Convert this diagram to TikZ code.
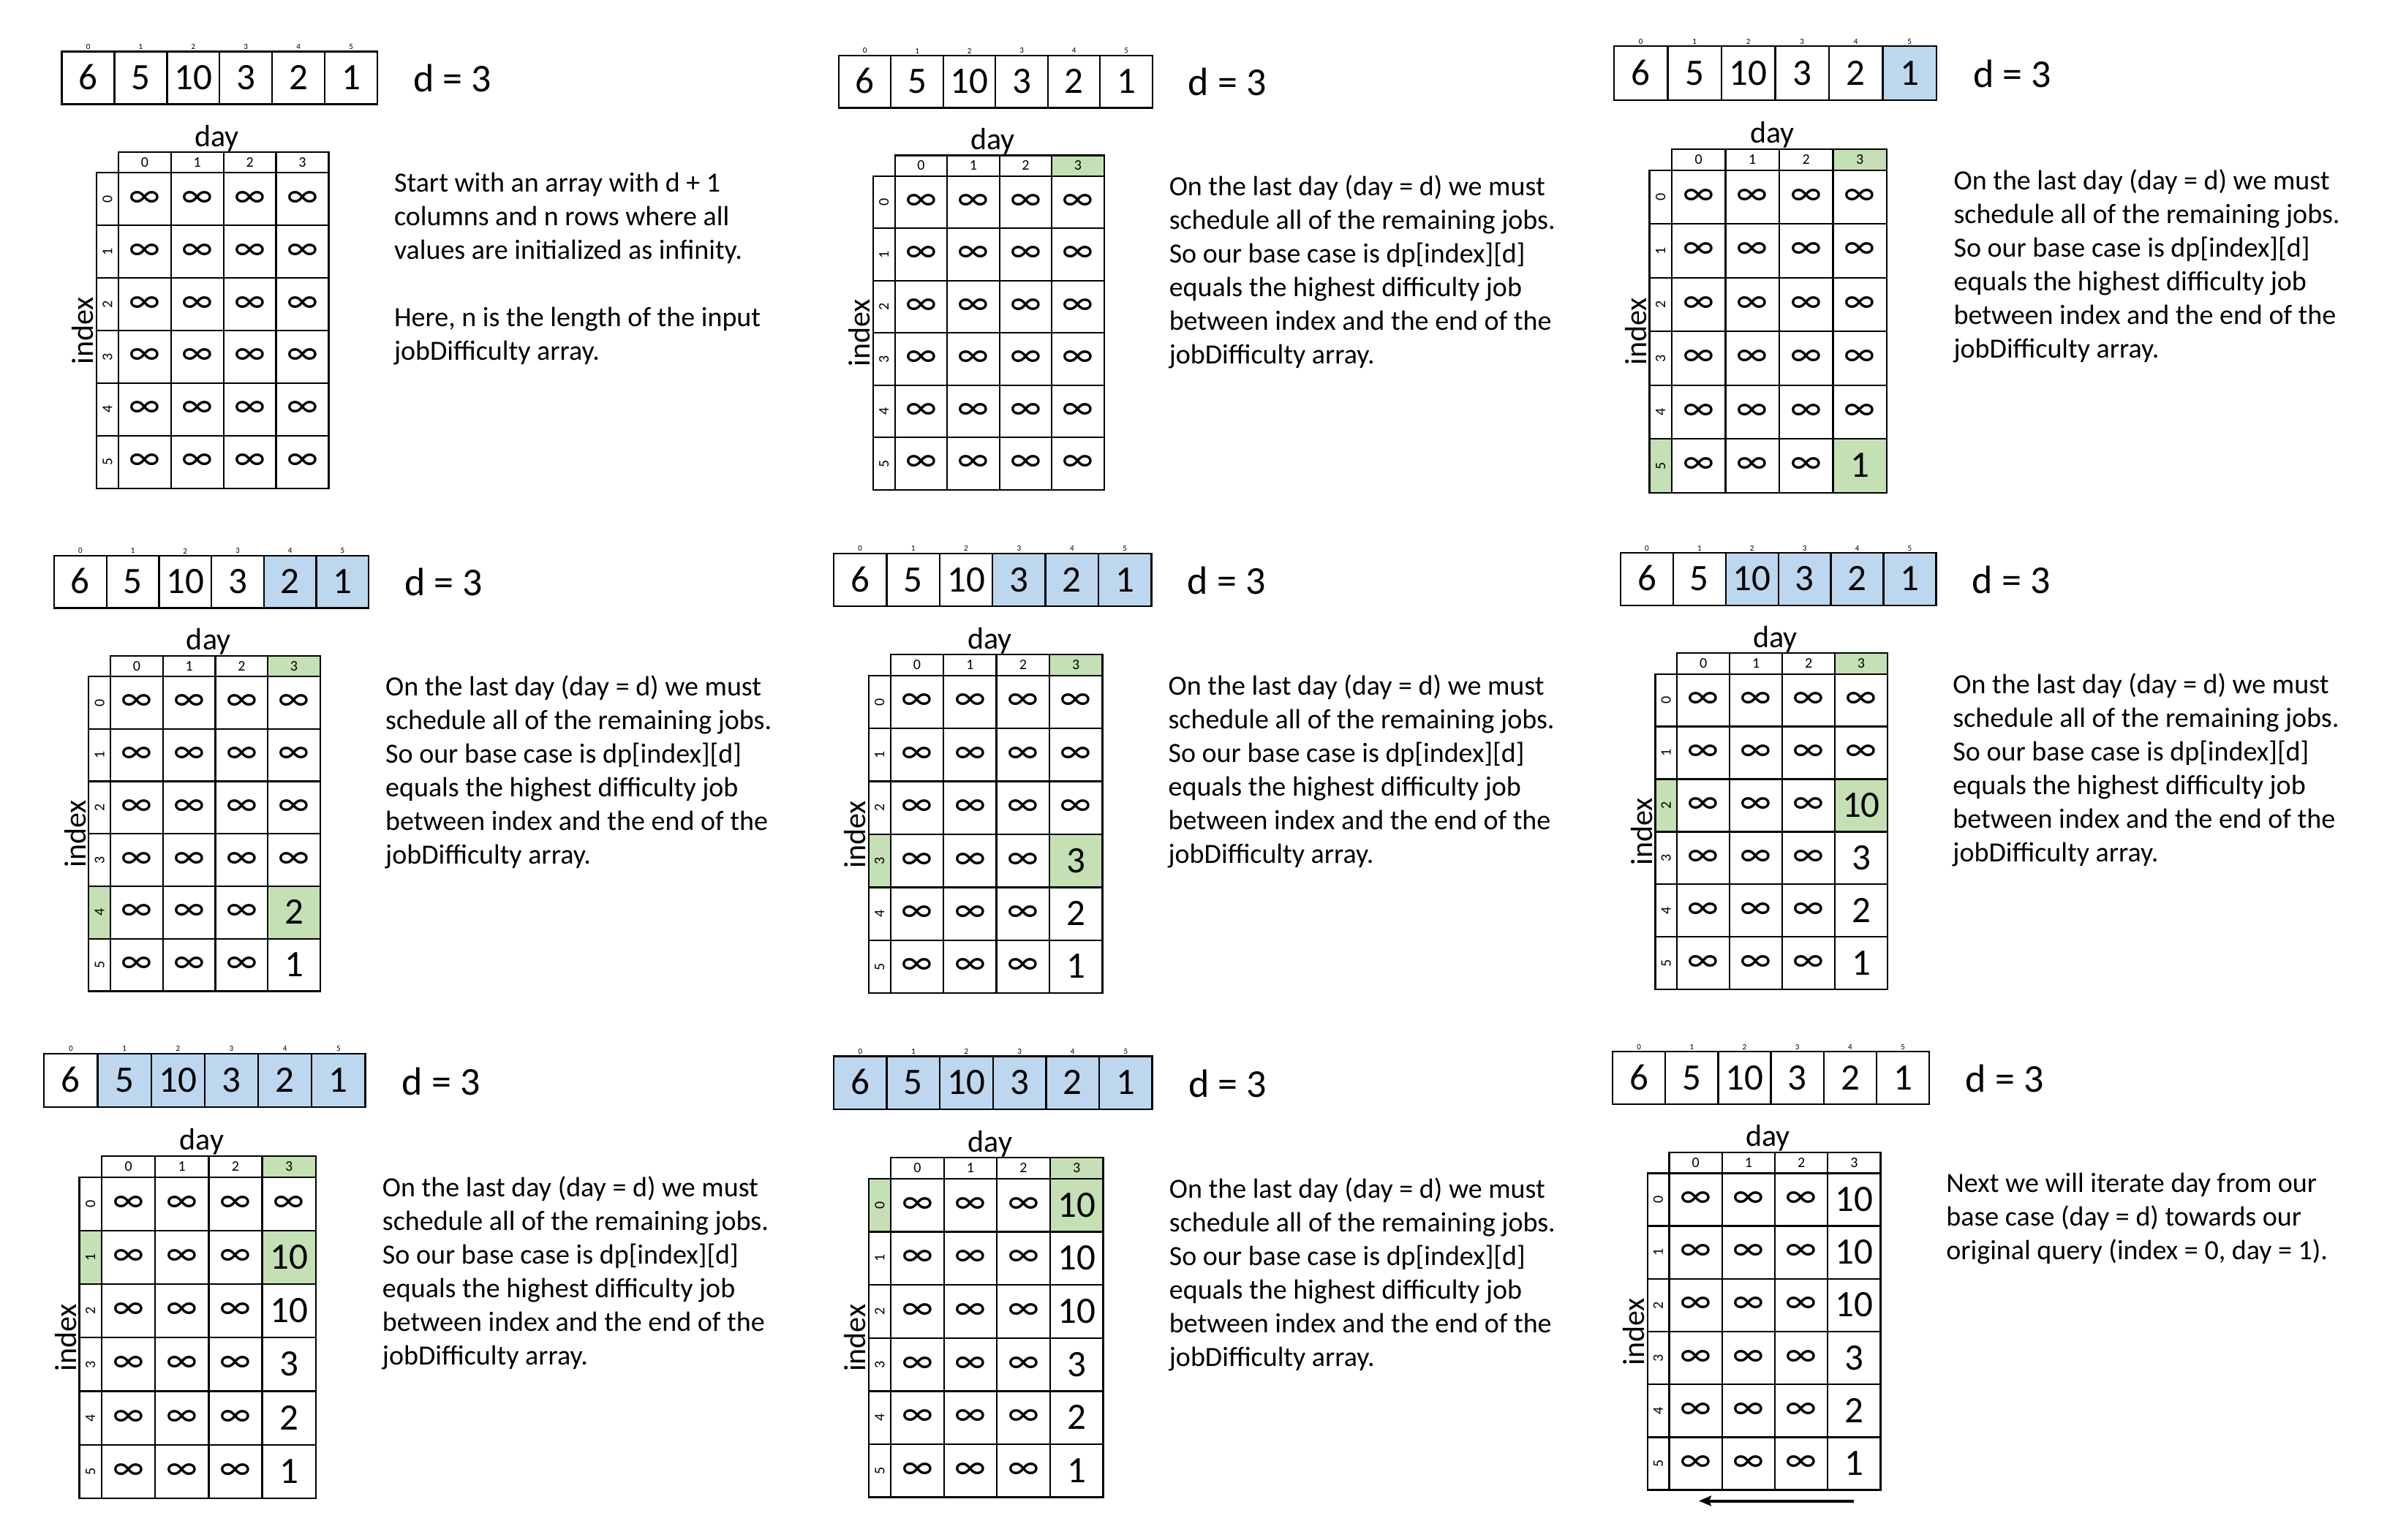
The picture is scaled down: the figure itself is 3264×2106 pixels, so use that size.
\documentclass[tikz,border=0pt]{standalone}
\usepackage{fontspec}
\setmainfont{Carlito}
\usetikzlibrary{arrows.meta}
\definecolor{cellblue}{HTML}{BDD7EE}
\definecolor{cellgreen}{HTML}{C5E0B4}
\tikzset{
  gline/.style={draw=black, line width=2.3pt},
  arrcell/.style={gline, fill=white, inner sep=0pt, font=\fontsize{51}{51}\selectfont, text height=32pt, text depth=0pt},
  tinyidx/.style={inner sep=0pt, font=\fontsize{11}{11}\selectfont},
  dlabel/.style={anchor=base west, inner sep=0pt, font=\fontsize{54}{54}\selectfont},
  axislabel/.style={inner sep=0pt, font=\fontsize{42}{42}\selectfont},
  hdrcell/.style={gline, fill=white, inner sep=0pt, font=\fontsize{20}{20}\selectfont, text height=12.6pt, text depth=0pt},
  idxcell/.style={gline, fill=white, inner sep=0pt, rotate=90, font=\fontsize{20}{20}\selectfont, text height=12.6pt, text depth=0pt},
  infcell/.style={gline, fill=white, inner sep=0pt, font=\fontsize{50}{50}\selectfont},
  numcell/.style={gline, fill=white, inner sep=0pt, font=\fontsize{51}{51}\selectfont, text height=32pt, text depth=0pt},
  bodytext/.style={anchor=north west, inner sep=0pt, align=left, font=\fontsize{38}{46}\selectfont},
  iterarrow/.style={draw=black, line width=4pt, -{Stealth[length=17pt,width=14pt,inset=3pt]}}
}
\def\hx{1.075}
\def\hy{1.91}
\def\hh{0.395}
% #1 id, #2 x, #3 y, #4 cell size, #5 first computed row, #6 mode, #7 text
\newcommand{\drawpanel}[7]{%
\begin{scope}[shift={(#2,#3)}, x=#4pt, y=-#4pt]
  \ifnum#6=2\relax \def\bluestart{#5}\def\greenrow{#5}\else\def\bluestart{6}\def\greenrow{9}\fi
  \ifnum#6>0\relax \def\hdrfill{cellgreen}\else\def\hdrfill{white}\fi
  \foreach \k/\v in {0/6,1/5,2/10,3/3,4/2,5/1}{%
    \ifnum\k<\bluestart\relax
      \node[arrcell, minimum width=#4pt, minimum height=#4pt] (#1a\k) at (\k+0.5,0.5) {\v};
    \else
      \node[arrcell, fill=cellblue, minimum width=#4pt, minimum height=#4pt] (#1a\k) at (\k+0.5,0.5) {\v};
    \fi
    \node[tinyidx] (#1t\k) at (\k+0.5,-0.09) {\k};
  }
  \node[dlabel] (#1d) at (6.68,0.765) {d = 3};
  \node[axislabel, anchor=base] (#1day) at ({\hx+1.87},{\hy-0.11}) {day};
  \foreach \j in {0,1,2}{%
    \node[hdrcell, minimum width=#4pt, minimum height={\hh*#4pt}] (#1h\j) at ({\hx+\j+0.5},{\hy+\hh/2}) {\j};
  }
  \node[hdrcell, fill=\hdrfill, minimum width=#4pt, minimum height={\hh*#4pt}] (#1h3) at ({\hx+3.5},{\hy+\hh/2}) {3};
  \foreach \i in {0,...,5}{%
    \ifnum\i=\greenrow\relax \def\rowfill{cellgreen}\else\def\rowfill{white}\fi
    \node[idxcell, fill=\rowfill, minimum width=#4pt, minimum height={0.415*#4pt}] (#1r\i) at ({\hx-0.2075},{\hy+\hh+\i+0.5}) {\i};
    \foreach \j in {0,1,2}{%
      \node[infcell, minimum width=#4pt, minimum height=#4pt] (#1v\i\j) at ({\hx+\j+0.5},{\hy+\hh+\i+0.5}) {∞};
    }
    \ifnum\i<#5\relax
      \node[infcell, fill=\rowfill, minimum width=#4pt, minimum height=#4pt] (#1v\i3) at ({\hx+3.5},{\hy+\hh+\i+0.5}) {∞};
    \else
      \node[numcell, fill=\rowfill, minimum width=#4pt, minimum height=#4pt] (#1v\i3) at ({\hx+3.5},{\hy+\hh+\i+0.5}) {\ifcase\i\relax 10\or 10\or 10\or 3\or 2\or 1\fi};
    \fi
  }
  \node[axislabel, rotate=90, anchor=base] (#1idx) at ({\hx-0.475},{\hy+\hh+3}) {index};
  \node[bodytext] (#1txt) at ({\hx+5.243},{\hy+\hh-0.083}) {#7};
\end{scope}}
\newcommand{\basetext}{\strut On the last day (day = d) we must\\ \strut schedule all of the remaining jobs.\\ \strut So our base case is dp[index][d]\\ \strut equals the highest difficulty job\\ \strut between index and the end of the\\ \strut jobDifficulty array.}
\begin{document}
\begin{tikzpicture}[x=1pt, y=-1pt]
  \fill[white] (0,0) rectangle (3264,2106);
  \useasboundingbox (0,0) rectangle (3264,2106);
  \drawpanel{A}{84.6}{70.6}{71.9}{6}{0}{\strut Start with an array with d + 1\\ \strut columns and n rows where all\\ \strut values are initialized as infinity.\\ \strut\\ \strut Here, n is the length of the input\\ \strut jobDifficulty array.}
  \drawpanel{B}{1146.8}{75.9}{71.5}{6}{1}{\basetext}
  \drawpanel{C}{2207}{63.3}{73.5}{5}{2}{\basetext}
  \drawpanel{D}{74}{759.9}{71.7}{4}{2}{\basetext}
  \drawpanel{E}{1140}{756.9}{72.4}{3}{2}{\basetext}
  \drawpanel{F}{2216}{756}{71.9}{2}{2}{\basetext}
  \drawpanel{G}{60.3}{1441}{73.2}{1}{2}{\basetext}
  \drawpanel{H}{1140}{1444.6}{72.6}{0}{2}{\basetext}
  \drawpanel{I}{2205}{1438}{72.2}{0}{0}{\strut Next we will iterate day from our\\ \strut base case (day = d) towards our\\ \strut original query (index = 0, day = 1).}
  \coordinate (IarrS) at (2535,2052.5);
  \coordinate (IarrE) at (2323,2052.5);
  \draw[iterarrow] (IarrS) -- (IarrE);
\end{tikzpicture}
\end{document}
